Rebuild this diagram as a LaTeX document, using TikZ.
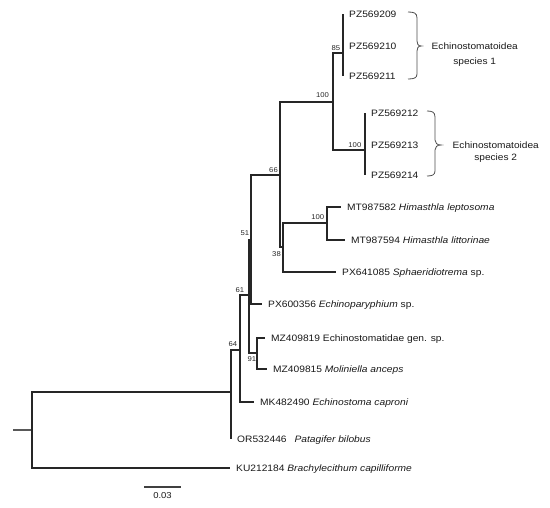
\documentclass[tikz,border=0pt]{standalone}
\usepackage{fontspec}
\setmainfont{Liberation Sans}[FakeStretch = 1.1]
\usepackage{tikz}
\usetikzlibrary{positioning}

\tikzset{
    branch/.style = {line width = 1.1pt , black!85},
    taxon/.style = {inner sep = 0pt , text height = 6.7pt , text depth = 0pt , text = black!90 , font = \fontsize{9.3}{11}\selectfont},
    boot/.style = {inner sep = 0pt , text height = 5pt , text depth = 0pt , text = black!85 , font = \fontsize{7}{8}\selectfont},
    bracket/.style = {line width = 0.8pt , black!70},
    group/.style = {align = center , anchor = base west , inner sep = 0pt , text = black!90}
}

\begin{document}
\begin{tikzpicture}[x = 1pt , y = -1pt]
    \useasboundingbox (0,0) rectangle (550,508);

    % inner nodes
    \coordinate (stub) at (13,430);
    \coordinate (root) at (32,430);
    \coordinate (n0) at (231,392);
    \coordinate (n64) at (240,350);
    \coordinate (n61) at (249,295);
    \coordinate (n51) at (251,240);
    \coordinate (n91) at (257,353);
    \coordinate (n66) at (280,175);
    \coordinate (n38) at (283,247);
    \coordinate (nHim) at (327,223);
    \coordinate (nEch) at (333,102);
    \coordinate (n85) at (343,53);
    \coordinate (nSp2) at (365,150);

    % tips
    \coordinate (t209) at (343,14.5);
    \coordinate (t210) at (343,46);
    \coordinate (t211) at (343,76.5);
    \coordinate (t212) at (365,113);
    \coordinate (t213) at (365,145);
    \coordinate (t214) at (365,175);
    \coordinate (tMT82) at (341,207);
    \coordinate (tMT94) at (345,240);
    \coordinate (tPX85) at (336,272);
    \coordinate (tPX56) at (262,304);
    \coordinate (tMZ19) at (265,338);
    \coordinate (tMZ15) at (267,369);
    \coordinate (tMK) at (254,402);
    \coordinate (tOR) at (231,439);
    \coordinate (tKU) at (230,468);

    % branches
    \draw[line width = 2pt , black!65] (stub) -- (root);
    \draw[branch] (root) |- (n0) (root) |- (tKU);
    \draw[branch] (n0) |- (n64) (n0) |- (tOR);
    \draw[branch] (n64) |- (n61) (n64) |- (tMK);
    \draw[branch] (n61) |- (n51) (n61) |- (n91);
    \draw[branch] (n91) |- (tMZ19) (n91) |- (tMZ15);
    \draw[branch] (n51) |- (n66) (n51) |- (tPX56);
    \draw[branch] (n66) |- (nEch) (n66) |- (n38);
    \draw[branch] (n38) |- (nHim) (n38) |- (tPX85);
    \draw[branch] (nHim) |- (tMT82) (nHim) |- (tMT94);
    \draw[branch] (nEch) |- (n85) (nEch) |- (nSp2);
    \draw[branch] (n85) |- (t209) (n85) |- (t210) (n85) |- (t211);
    \draw[branch] (nSp2) |- (t212) (nSp2) |- (t213) (nSp2) |- (t214);

    % taxa
    \node[taxon , right = 6pt of t209] (l209) {PZ569209};
    \node[taxon , right = 6pt of t210] (l210) {PZ569210};
    \node[taxon , right = 6pt of t211] (l211) {PZ569211};
    \node[taxon , right = 6pt of t212] (l212) {PZ569212};
    \node[taxon , right = 6pt of t213] (l213) {PZ569213};
    \node[taxon , right = 6pt of t214] (l214) {PZ569214};
    \node[taxon , right = 6pt of tMT82] (lMT82) {MT987582 \textit{Himasthla leptosoma}};
    \node[taxon , right = 6pt of tMT94] (lMT94) {MT987594 \textit{Himasthla littorinae}};
    \node[taxon , right = 6pt of tPX85] (lPX85) {PX641085 \textit{Sphaeridiotrema} sp.};
    \node[taxon , right = 6pt of tPX56] (lPX56) {PX600356 \textit{Echinoparyphium} sp.};
    \node[taxon , right = 6pt of tMZ19] (lMZ19) {MZ409819 Echinostomatidae gen. sp.};
    \node[taxon , right = 6pt of tMZ15] (lMZ15) {MZ409815 \textit{Moliniella anceps}};
    \node[taxon , right = 6pt of tMK] (lMK) {MK482490 \textit{Echinostoma caproni}};
    \node[taxon , right = 6pt of tOR] (lOR) {OR532446\hspace{5pt} \textit{Patagifer bilobus}};
    \node[taxon , right = 6pt of tKU] (lKU) {KU212184 \textit{Brachylecithum capilliforme}};

    % bootstrap values
    \node[boot , above left = 2.5pt and 2.7pt of n85] (b85) {85};
    \node[boot , above left = 4.5pt and 3.9pt of nEch] (bEch) {100};
    \node[boot , above left = 2.5pt and 3.5pt of nSp2] (bSp2) {100};
    \node[boot , above left = 2.5pt and 2pt of n66] (b66) {66};
    \node[boot , above left = 3.2pt and 2.6pt of nHim] (bHim) {100};
    \node[boot , below left = 4.5pt and 2pt of n38] (b38) {38};
    \node[boot , above left = 4.5pt and 1.7pt of n51] (b51) {51};
    \node[boot , above left = 2.5pt and 4.7pt of n61] (b61) {61};
    \node[boot , below left = 3.5pt and 0.7pt of n91] (b91) {91};
    \node[boot , above left = 3pt and 2.7pt of n64] (b64) {64};

    % species brackets
    \coordinate (tip1) at (421.5,46);
    \draw[bracket] (408,12) .. controls (414,12) and (417,13) .. (417,18) -- (417,41) .. controls (417,44) and (418,46) .. (tip1) .. controls (418,46) and (417,48) .. (417,51) -- (417,74) .. controls (417,78) and (414,79) .. (408,79);
    \node[group , font = \fontsize{9.2}{15}\selectfont] (grp1) at ([xshift = 10pt , yshift = -18.3pt]tip1) {Echinostomatoidea\\species 1};
    \coordinate (tip2) at (441,145);
    \draw[bracket] (427,111) .. controls (432,111) and (435,112) .. (435,117) -- (435,140) .. controls (435,143) and (437,145) .. (tip2) .. controls (437,145) and (435,147) .. (435,150) -- (435,171) .. controls (435,175) and (432,176) .. (427,176);
    \node[group , font = \fontsize{9.2}{12}\selectfont] (grp2) at ([xshift = 11.5pt , yshift = -15.3pt]tip2) {Echinostomatoidea\\species 2};

    % scale bar
    \coordinate (sbL) at (144,487);
    \coordinate (sbR) at (181,487);
    \draw[line width = 1.8pt , black!75] (sbL) -- (sbR);
    \node[taxon , text height = 6.2pt , font = \fontsize{8.6}{10}\selectfont] (scale) at (162.5,495) {0.03};
\end{tikzpicture}
\end{document}
